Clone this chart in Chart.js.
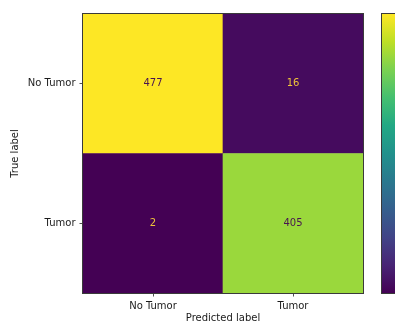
<!DOCTYPE html>
<html>
<head>
<meta charset="utf-8">
<script src="https://cdn.jsdelivr.net/npm/chart.js@4.4.1/dist/chart.umd.min.js"></script>
<style>
  html, body { margin: 0; padding: 0; background: #fff; overflow: hidden; }
  #wrap { width: 395px; height: 322px; }
</style>
</head>
<body>
<div id="wrap"><canvas id="cm" width="395" height="322"></canvas></div>
<script>
// Confusion matrix: rows are true labels, columns are predicted labels
const predictedLabels = ['No Tumor', 'Tumor'];
const trueLabels = ['No Tumor', 'Tumor'];
const rowNoTumor = [477, 16];
const rowTumor = [2, 405];

const allCounts = rowNoTumor.concat(rowTumor);
const vMin = Math.min(...allCounts);
const vMax = Math.max(...allCounts);

// Viridis colour map
const VIRIDIS = [
  [0.0, [68, 1, 84]], [0.1, [72, 36, 117]], [0.2, [65, 68, 135]],
  [0.3, [53, 95, 141]], [0.4, [42, 120, 142]], [0.5, [33, 145, 140]],
  [0.6, [34, 168, 132]], [0.7, [68, 191, 112]], [0.8, [122, 209, 81]],
  [0.9, [189, 223, 38]], [1.0, [253, 231, 37]]
];
function viridis(t) {
  t = Math.max(0, Math.min(1, t));
  for (let i = 1; i < VIRIDIS.length; i++) {
    const [t1, c1] = VIRIDIS[i];
    const [t0, c0] = VIRIDIS[i - 1];
    if (t <= t1) {
      const f = (t - t0) / (t1 - t0);
      const c = c0.map((v, k) => Math.round(v + (c1[k] - v) * f));
      return `rgb(${c[0]},${c[1]},${c[2]})`;
    }
  }
  return 'rgb(253,231,37)';
}
const colorFor = v => viridis((v - vMin) / (vMax - vMin));

const FONT = { family: 'DejaVu Sans', size: 10 };
const FRAME = '#3a3a3a';
const TEXT = '#1a1a1a';

// Value annotations inside each cell
const cellText = {
  id: 'cellText',
  afterDatasetsDraw(chart) {
    const ctx = chart.ctx;
    const thresh = (vMin + vMax) / 2;
    ctx.save();
    ctx.font = '10px "DejaVu Sans"';
    ctx.textAlign = 'center';
    ctx.textBaseline = 'middle';
    chart.data.datasets.forEach((ds, di) => {
      const meta = chart.getDatasetMeta(di);
      meta.data.forEach((bar, i) => {
        const v = ds.counts[i];
        ctx.fillStyle = v < thresh ? 'rgb(238,196,58)' : 'rgb(72,20,80)';
        ctx.fillText(String(v), bar.x, (bar.y + bar.base) / 2);
      });
    });
    ctx.restore();
  }
};

// Axes frame and colour bar
const frameAndBar = {
  id: 'frameAndBar',
  afterDraw(chart) {
    const { ctx, chartArea: a } = chart;
    ctx.save();
    ctx.strokeStyle = FRAME;
    ctx.lineWidth = 1;
    ctx.strokeRect(Math.round(a.left) - 0.5, Math.round(a.top) - 0.5,
                   Math.round(a.right - a.left) + 1, Math.round(a.bottom - a.top) + 1);

    const bx = Math.round(a.right) + 18.5;
    const bw = 16;
    const grad = ctx.createLinearGradient(0, a.bottom, 0, a.top);
    for (let i = 0; i <= 20; i++) grad.addColorStop(i / 20, viridis(i / 20));
    ctx.fillStyle = grad;
    ctx.fillRect(bx, a.top, bw, a.bottom - a.top);
    ctx.strokeRect(bx, Math.round(a.top) - 0.5, bw, Math.round(a.bottom - a.top) + 1);
    ctx.restore();
  }
};

const ones = predictedLabels.map(() => 1);

new Chart(document.getElementById('cm'), {
  type: 'bar',
  data: {
    labels: predictedLabels,
    datasets: [
      { label: trueLabels[1], data: ones, counts: rowTumor,
        backgroundColor: rowTumor.map(colorFor) },
      { label: trueLabels[0], data: ones, counts: rowNoTumor,
        backgroundColor: rowNoTumor.map(colorFor) }
    ]
  },
  options: {
    responsive: false,
    animation: false,
    devicePixelRatio: 1,
    layout: { padding: { top: 14, right: 32, left: 0, bottom: 0 } },
    datasets: { bar: { barPercentage: 1, categoryPercentage: 1, borderWidth: 0 } },
    plugins: { legend: { display: false }, tooltip: { enabled: false } },
    scales: {
      x: {
        stacked: true,
        offset: true,
        grid: { offset: false, drawOnChartArea: false, drawTicks: true,
                tickLength: 3.5, color: '#222', lineWidth: 0.8 },
        border: { display: false },
        ticks: { color: TEXT, font: FONT, padding: 3.5 },
        title: { display: true, text: 'Predicted label', color: TEXT,
                 font: FONT, padding: { top: 0, bottom: -2 } },
        afterFit(s) { s.height = 29; }
      },
      y: {
        stacked: true,
        min: 0,
        max: trueLabels.length,
        afterBuildTicks(s) {
          s.ticks = trueLabels.map((_, i) => ({ value: i + 0.5 }));
        },
        grid: { drawOnChartArea: false, drawTicks: true,
                tickLength: 3.5, color: '#222', lineWidth: 0.8 },
        border: { display: false },
        ticks: {
          color: TEXT, font: FONT, padding: 4,
          callback: v => trueLabels[trueLabels.length - 1 - Math.floor(v)]
        },
        title: { display: true, text: 'True label', color: TEXT,
                 font: FONT, padding: { top: 9.5, bottom: 0 } },
        afterFit(s) { s.width = 83; }
      }
    }
  },
  plugins: [cellText, frameAndBar]
});
</script>
</body>
</html>
